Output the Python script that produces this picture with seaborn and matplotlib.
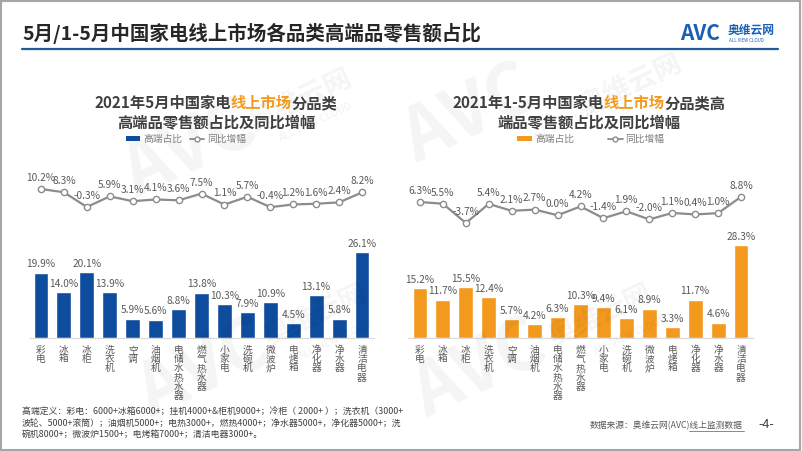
import numpy as np
import pandas as pd
import matplotlib
matplotlib.use('Agg')
import matplotlib.pyplot as plt
from matplotlib.patches import Rectangle, Patch
from matplotlib.lines import Line2D
import seaborn as sns

# data
categories = ['彩电', '冰箱', '冰柜', '洗衣机', '空调', '油烟机', '电储水热水器', '燃气热水器',
              '小家电', '洗碗机', '微波炉', '电烤箱', '净化器', '净水器', '清洁电器']
may_share = [19.9, 14.0, 20.1, 13.9, 5.9, 5.6, 8.8, 13.8, 10.3, 7.9, 10.9, 4.5, 13.1, 5.8, 26.1]
may_yoy = [10.2, 8.3, -0.3, 5.9, 3.1, 4.1, 3.6, 7.5, 1.1, 5.7, -0.4, 1.2, 1.6, 2.4, 8.2]
ytd_share = [15.2, 11.7, 15.5, 12.4, 5.7, 4.2, 6.3, 10.3, 9.4, 6.1, 8.9, 3.3, 11.7, 4.6, 28.3]
ytd_yoy = [6.3, 5.5, -3.7, 5.4, 2.1, 2.7, 0.0, 4.2, -1.4, 1.9, -2.0, 1.1, 0.4, 1.0, 8.8]

footnote = ['高端定义：彩电：6000+冰箱6000+；挂机4000+&柜机9000+；冷柜（ 2000+ ）；洗衣机（3000+',
            '波轮、5000+滚筒）；油烟机5000+；电热3000+，燃热4000+；净水器5000+，净化器5000+；洗',
            '碗机8000+；微波炉1500+；电烤箱7000+；清洁电器3000+。']

BLUE = '#0E4C9E'
ORANGE = '#F39A1E'
LINE_GRAY = '#8c8c8c'
TXT = '#595959'

sns.set_theme(style='white')
plt.rcParams['font.family'] = ['Noto Sans CJK SC', 'DejaVu Sans']

W, H = 802, 451
fig = plt.figure(figsize=(W / 100, H / 100), dpi=100)
fig.patch.set_facecolor('white')


def fx(px):
    return px / W


def fy(py):
    return 1 - py / H


# faint watermarks
def watermark(x, y, s, size, alpha=0.045, weight='bold', style='italic'):
    fig.text(fx(x), fy(y), s, fontsize=size, fontweight=weight, fontstyle=style, color='black',
             alpha=alpha, rotation=25, ha='center', va='center', zorder=0)


for (ax_, ay_), (cx, cy), (lx, ly) in [((190, 150), (300, 100), (315, 122)),
                                       ((205, 370), (315, 315), (335, 340)),
                                       ((480, 370), (600, 315), (630, 335)),
                                       ((470, 115), (630, 85), (570, 122))]:
    watermark(ax_, ay_, 'AVC', 52)
    watermark(cx, cy, '奥维云网', 20)
    watermark(lx, ly, 'ALL VIEW CLOUD', 7, style='normal')


def color_title(x_px, y_px, parts, size=11):
    texts = [fig.text(0, fy(y_px), s, color=c, fontsize=size, fontweight='bold', va='center')
             for s, c in parts]
    r = fig.canvas.get_renderer()
    widths = [t.get_window_extent(r).width for t in texts]
    x0 = x_px - sum(widths) / 2
    for t, w in zip(texts, widths):
        t.set_x(fx(x0))
        x0 += w


def panel(left_px, share, yoy, color, yoy_lim, titles, title_x, legend_x, colsp):
    ax = fig.add_axes([fx(left_px), fy(338), 344 / W, 188 / H])
    ax.set_facecolor('none')
    df = pd.DataFrame({'cat': categories, 'share': share})
    sns.barplot(data=df, x='cat', y='share', color=color, saturation=1, width=0.65, ax=ax)
    ax.bar_label(ax.containers[0], labels=[f'{v:.1f}%' for v in share], padding=2.5,
                 fontsize=7.3, color=TXT)
    ax.set_ylim(0, 57.3)
    ax.set_xlim(-0.5, len(categories) - 0.5)
    ax.set_yticks([])
    ax.set_xlabel('')
    ax.set_ylabel('')
    ax.set_xticks(range(len(categories)))
    ax.set_xticklabels(['\n'.join(c) for c in categories], fontsize=7, color=TXT,
                       linespacing=0.9, va='top')
    ax.tick_params(axis='x', length=0, pad=5)
    for s in ['top', 'left', 'right']:
        ax.spines[s].set_visible(False)
    ax.spines['bottom'].set_color('#d9d9d9')
    ax.spines['bottom'].set_linewidth(0.8)

    # yoy line on its own scale
    ax2 = ax.twinx()
    sns.lineplot(x=np.arange(len(categories)), y=yoy, ax=ax2, color=LINE_GRAY, linewidth=1.6,
                 marker='o', markersize=4.5, markerfacecolor='white', markeredgecolor=LINE_GRAY,
                 markeredgewidth=1)
    for i, v in enumerate(yoy):
        ax2.annotate(f'{v:.1f}%', (i, v), xytext=(0, 8), textcoords='offset points',
                     ha='center', va='center', fontsize=7.3, color=TXT)
    ax2.set_ylim(*yoy_lim)
    ax2.set_xlim(-0.5, len(categories) - 0.5)
    ax2.set_yticks([])
    ax2.set_ylabel('')
    for s in ax2.spines.values():
        s.set_visible(False)

    color_title(title_x, 103, titles[0])
    color_title(title_x, 122, titles[1])

    handles = [Patch(facecolor=color, edgecolor='none'),
               Line2D([], [], color=LINE_GRAY, lw=1.3, marker='o', markersize=3.5,
                      markerfacecolor='white', markeredgecolor=LINE_GRAY)]
    fig.legend(handles, ['高端占比', '同比增幅'], loc='center', bbox_to_anchor=(fx(legend_x), fy(139)),
               ncol=2, frameon=False, fontsize=7, labelcolor='#7f7f7f', handlelength=1.5,
               handleheight=0.5, handletextpad=0.3, columnspacing=colsp, borderpad=0)
    return ax


panel(29.5, may_share, may_yoy, BLUE, (-76.7, 32.95),
      [[('2021年5月中国家电', '#404040'), ('线上市场', ORANGE), ('分品类', '#404040')],
       [('高端品零售额占比及同比增幅', '#404040')]],
      216, 186, 0.8)
panel(408.5, ytd_share, ytd_yoy, ORANGE, (-58.5, 31.1),
      [[('2021年1-5月中国家电', '#404040'), ('线上市场', ORANGE), ('分品类高', '#404040')],
       [('端品零售额占比及同比增幅', '#404040')]],
      589, 591, 3.5)

# header
fig.text(fx(22), fy(33), '5月/1-5月中国家电线上市场各品类高端品零售额占比', fontsize=14,
         fontweight='bold', color='#262626', va='center')
fig.add_artist(Line2D([fx(22), fx(778)], [fy(49), fy(49)], color='#1F5C99', lw=1.6))
fig.text(fx(700), fy(33), 'AVC', fontsize=15, fontweight='bold', fontstyle='italic',
         color='#1B5FB5', ha='center', va='center')
fig.text(fx(728), fy(30), '奥维云网', fontsize=8.5, fontweight='bold', color='#1B5FB5', va='center')
fig.text(fx(729), fy(41), 'ALL VIEW CLOUD', fontsize=3.2, color='#1B5FB5', va='center')

# footer
for k, line in enumerate(footnote):
    fig.text(fx(22), fy(412 + 11 * k), line, fontsize=6.4, color='#404040', va='center')
fig.text(fx(590), fy(426), '数据来源：奥维云网(AVC)线上监测数据', fontsize=6.3, color=TXT, va='center')
fig.add_artist(Line2D([fx(689), fx(744)], [fy(431), fy(431)], color=TXT, lw=0.5))
fig.text(fx(766), fy(425), '-4-', fontsize=9, color='#404040', ha='center', va='center')

# frame
fig.add_artist(Rectangle((0.001, 0.002), 0.997, 0.995, transform=fig.transFigure, fill=False,
                         edgecolor='#a6a6a6', lw=1.5))

fig.savefig('out.png', dpi=100)
